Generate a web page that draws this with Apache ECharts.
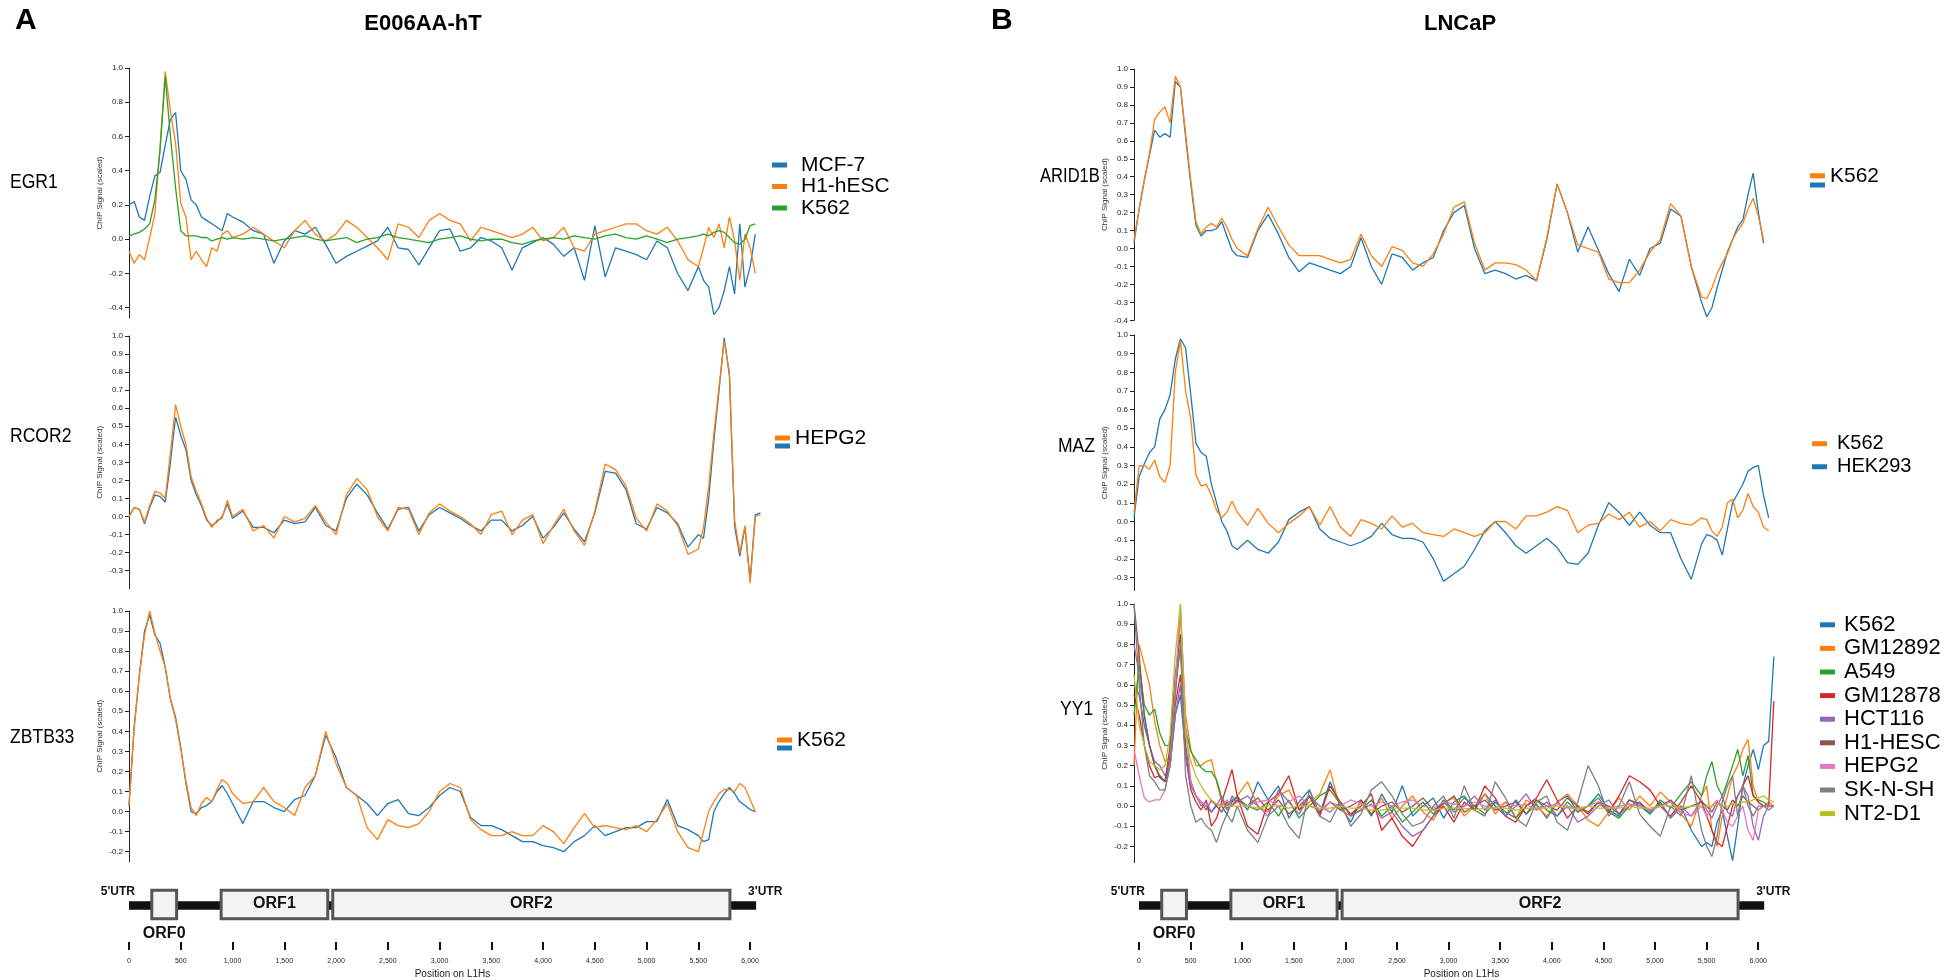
<!DOCTYPE html>
<html><head><meta charset="utf-8">
<script src="https://cdn.jsdelivr.net/npm/echarts@6/dist/echarts.min.js"></script>
<style>html,body{margin:0;padding:0;background:#fff}#c{width:1952px;height:980px}</style>
</head><body><div id="c"></div>
<script>
// ---------- positions on L1Hs (bp) shared by every series ----------
const positions = [0,50,100,150,200,250,300,350,400,450,500,550,600,650,700,750,800,850,900,950,1000,
1100,1200,1300,1400,1500,1600,1700,1800,1900,2000,2100,2200,2300,2400,2500,2600,2700,2800,2900,3000,
3100,3200,3300,3400,3500,3600,3700,3800,3900,4000,4100,4200,4300,4400,4500,4600,4700,4800,4900,5000,
5100,5200,5300,5400,5500,5550,5600,5650,5700,5750,5800,5850,5900,5950,6000,6050,6100,6150,6200];

// ---------- tick labels ----------
const xTicks = [0,500,1000,1500,2000,2500,3000,3500,4000,4500,5000,5500,6000];
const yTicksEGR1 = [-0.4,-0.2,0,0.2,0.4,0.6,0.8,1.0];
const yTicksRCOR2 = [-0.3,-0.2,-0.1,0,0.1,0.2,0.3,0.4,0.5,0.6,0.7,0.8,0.9,1.0];
const yTicksZBTB33 = [-0.2,-0.1,0,0.1,0.2,0.3,0.4,0.5,0.6,0.7,0.8,0.9,1.0];
const yTicksARID1B = [-0.4,-0.3,-0.2,-0.1,0,0.1,0.2,0.3,0.4,0.5,0.6,0.7,0.8,0.9,1.0];
const yTicksMAZ = [-0.3,-0.2,-0.1,0,0.1,0.2,0.3,0.4,0.5,0.6,0.7,0.8,0.9,1.0];
const yTicksYY1 = [-0.2,-0.1,0,0.1,0.2,0.3,0.4,0.5,0.6,0.7,0.8,0.9,1.0];

// ---------- L1Hs gene map ----------
const orfNames = ['ORF0','ORF1','ORF2'];
const orfStart = [220, 890, 1968];
const orfEnd = [460, 1920, 5805];
const utrExtent = [0, 6058];

// ---------- E006AA-hT : EGR1 ----------
const egr1_MCF7 = [0.2,0.22,0.13,0.11,0.25,0.37,0.39,0.55,0.7,0.74,0.4,0.35,0.23,0.2,0.13,0.11,0.09,0.07,0.05,0.15,0.13,
0.10,0.05,0.03,-0.14,-0.01,0.05,0.03,0.07,-0.03,-0.14,-0.1,-0.07,-0.04,-0.01,0.07,-0.05,-0.06,-0.15,-0.05,0.05,0.06,-0.07,-0.05,0.01,-0.01,-0.05,-0.18,-0.05,-0.02,0.01,-0.03,-0.1,-0.05,-0.24,0.08,-0.22,-0.05,-0.07,-0.09,-0.12,-0.01,-0.05,-0.2,-0.3,-0.16,
-0.24,-0.28,-0.44,-0.4,-0.3,-0.16,-0.32,0.09,-0.28,-0.16,0.03];
const egr1_H1hESC = [-0.07,-0.14,-0.09,-0.12,0.01,0.15,0.54,0.98,0.75,0.56,0.21,0.13,-0.12,-0.07,-0.12,-0.16,-0.05,-0.07,0.03,0.05,0.01,
0.03,0.07,0.03,-0.01,-0.05,0.05,0.11,0.03,-0.01,0.03,0.11,0.07,0.01,-0.05,-0.12,0.09,0.07,0.01,0.11,0.15,0.11,0.09,-0.01,0.07,0.05,0.03,0.01,0.03,0.07,-0.01,0.01,0.07,-0.05,-0.07,0.03,0.05,0.07,0.09,0.09,0.05,0.03,0.07,-0.01,-0.12,-0.16,
-0.05,0.07,0.01,0.09,-0.05,0.13,-0.01,-0.24,0.03,-0.05,-0.2];
const egr1_K562 = [0.02,0.03,0.04,0.06,0.09,0.23,0.52,0.95,0.6,0.3,0.05,0.02,0.02,0.02,0.01,0.01,-0.01,0.0,0.01,0.0,0.01,
0.0,0.01,0.0,-0.01,0.0,0.01,0.02,0.0,-0.01,0.0,0.01,-0.02,0.0,0.01,0.03,0.01,0.0,-0.01,-0.02,0.0,0.01,0.02,0.0,-0.01,0.0,0.0,-0.02,-0.03,-0.01,0.0,0.01,0.0,0.02,0.01,0.0,0.02,0.03,0.01,0.0,0.02,0.0,-0.02,0.0,0.01,0.02,
0.03,0.02,0.04,0.05,0.04,0.01,-0.02,-0.03,0.0,0.08,0.09];

// ---------- E006AA-hT : RCOR2 ----------
const rcor2_HEPG2_a = [0.0,0.05,0.04,-0.03,0.06,0.14,0.13,0.1,0.35,0.62,0.5,0.4,0.22,0.14,0.07,-0.01,-0.06,-0.02,-0.01,0.09,0.0,
0.04,-0.08,-0.05,-0.12,0.0,-0.03,-0.01,0.06,-0.03,-0.1,0.12,0.21,0.15,0.0,-0.08,0.05,0.04,-0.1,0.02,0.07,0.03,0.0,-0.04,-0.1,0.01,0.03,-0.1,-0.02,0.01,-0.15,-0.05,0.04,-0.08,-0.16,0.03,0.29,0.26,0.17,-0.01,-0.08,0.07,0.03,-0.05,-0.21,-0.18,
-0.06,0.17,0.46,0.72,0.97,0.8,-0.02,-0.2,-0.05,-0.37,0.0,0.01];
const rcor2_HEPG2_b = [0.0,0.05,0.04,-0.04,0.05,0.12,0.11,0.08,0.3,0.55,0.45,0.37,0.2,0.12,0.06,-0.02,-0.05,-0.03,0.0,0.07,-0.01,
0.03,-0.06,-0.06,-0.09,-0.02,-0.04,-0.03,0.05,-0.05,-0.08,0.1,0.18,0.12,0.02,-0.07,0.04,0.05,-0.08,0.01,0.05,0.02,-0.01,-0.05,-0.08,-0.02,-0.02,-0.08,-0.05,0.0,-0.12,-0.06,0.02,-0.07,-0.14,0.02,0.25,0.24,0.15,-0.04,-0.07,0.05,0.02,-0.04,-0.17,-0.1,
-0.12,0.1,0.42,0.7,0.99,0.78,-0.05,-0.22,-0.06,-0.35,0.01,0.02];

// ---------- E006AA-hT : ZBTB33 ----------
const zbtb33_K562_a = [0.03,0.42,0.68,0.88,1.0,0.89,0.8,0.72,0.56,0.46,0.31,0.15,0.02,-0.02,0.04,0.07,0.05,0.11,0.16,0.14,0.09,
0.04,0.05,0.12,0.05,0.02,-0.02,0.12,0.18,0.4,0.24,0.12,0.08,-0.08,-0.14,-0.04,-0.07,-0.08,-0.06,0.0,0.1,0.14,0.12,-0.04,-0.09,-0.12,-0.12,-0.1,-0.12,-0.12,-0.07,-0.1,-0.16,-0.08,-0.01,-0.08,-0.07,-0.08,-0.09,-0.07,-0.1,-0.04,0.04,-0.1,-0.18,-0.2,
-0.1,0.0,0.05,0.09,0.11,0.11,0.1,0.14,0.12,0.06,0.0];
const zbtb33_K562_b = [0.03,0.42,0.68,0.9,0.98,0.88,0.84,0.72,0.56,0.47,0.32,0.14,0.0,-0.01,0.02,0.03,0.05,0.1,0.13,0.09,0.04,
-0.06,0.05,0.05,0.02,0.0,0.06,0.08,0.18,0.38,0.27,0.12,0.08,0.04,-0.02,0.04,0.06,-0.01,-0.02,0.02,0.08,0.12,0.1,-0.03,-0.07,-0.07,-0.09,-0.12,-0.15,-0.15,-0.17,-0.18,-0.2,-0.15,-0.12,-0.07,-0.12,-0.1,-0.08,-0.08,-0.05,-0.05,0.06,-0.07,-0.09,-0.12,
-0.15,-0.14,0.0,0.05,0.09,0.12,0.09,0.05,0.03,0.01,0.0];

// ---------- LNCaP : ARID1B ----------
const arid1b_K562_a = [0.05,0.22,0.38,0.53,0.72,0.76,0.79,0.7,0.96,0.9,0.64,0.38,0.15,0.08,0.12,0.14,0.12,0.17,0.12,0.05,0.0,
-0.04,0.11,0.23,0.12,0.02,-0.04,-0.04,-0.04,-0.06,-0.08,-0.06,0.08,-0.04,-0.1,0.01,-0.01,-0.08,-0.1,-0.03,0.08,0.23,0.26,0.03,-0.12,-0.08,-0.08,-0.09,-0.12,-0.18,0.06,0.36,0.2,0.02,0.0,-0.02,-0.17,-0.19,-0.19,-0.12,-0.02,0.05,0.25,0.18,-0.1,-0.27,
-0.28,-0.22,-0.14,-0.08,-0.03,0.05,0.1,0.14,0.22,0.28,0.18,0.05];
const arid1b_K562_b = [0.03,0.22,0.38,0.52,0.66,0.62,0.64,0.62,0.93,0.9,0.62,0.36,0.13,0.07,0.1,0.1,0.11,0.15,0.07,-0.01,-0.04,
-0.05,0.1,0.19,0.08,-0.05,-0.13,-0.08,-0.1,-0.12,-0.14,-0.1,0.06,-0.1,-0.2,-0.03,-0.05,-0.12,-0.08,-0.05,0.1,0.2,0.24,0.0,-0.14,-0.12,-0.14,-0.17,-0.15,-0.18,0.05,0.36,0.2,-0.02,0.12,-0.01,-0.14,-0.24,-0.06,-0.15,0.0,0.03,0.22,0.18,-0.1,-0.3,
-0.38,-0.33,-0.22,-0.12,-0.02,0.05,0.12,0.16,0.3,0.42,0.2,0.03];

// ---------- LNCaP : MAZ ----------
const maz_K562 = [0.05,0.3,0.3,0.28,0.33,0.24,0.21,0.3,0.8,0.97,0.7,0.55,0.25,0.19,0.2,0.14,0.06,0.02,0.05,0.11,0.05,
-0.02,0.07,-0.01,-0.06,-0.01,0.03,0.08,-0.02,0.08,-0.03,-0.08,0.01,-0.01,-0.04,0.03,-0.03,-0.01,-0.06,-0.07,-0.08,-0.04,-0.06,-0.08,-0.06,0.0,0.0,-0.04,0.03,0.03,0.05,0.08,0.06,-0.06,-0.02,-0.01,0.04,0.01,0.05,-0.03,0.0,-0.05,0.01,-0.01,-0.02,0.02,
0.01,-0.05,-0.08,-0.03,0.1,0.12,0.02,0.06,0.15,0.08,0.05,-0.03,-0.05];
const maz_HEK293 = [0.02,0.24,0.31,0.37,0.4,0.55,0.6,0.68,0.87,0.98,0.93,0.68,0.42,0.37,0.35,0.2,0.1,0.0,-0.05,-0.13,-0.15,
-0.1,-0.15,-0.17,-0.11,0.01,0.05,0.08,-0.04,-0.09,-0.11,-0.13,-0.11,-0.08,-0.01,-0.07,-0.09,-0.09,-0.11,-0.2,-0.32,-0.28,-0.24,-0.15,-0.05,0.0,-0.06,-0.13,-0.17,-0.13,-0.09,-0.14,-0.22,-0.23,-0.17,-0.02,0.1,0.05,-0.02,0.05,-0.02,-0.06,-0.06,-0.2,-0.31,-0.12,
-0.07,-0.08,-0.1,-0.18,-0.04,0.1,0.15,0.2,0.27,0.29,0.3,0.14,0.02];

// ---------- LNCaP : YY1 ----------
const yy1_K562 = [0.6,0.55,0.4,0.3,0.2,0.14,0.12,0.2,0.45,0.55,0.25,0.12,0.05,0.02,0.0,-0.03,0.01,0.0,-0.04,0.02,0.05,
-0.02,0.12,0.03,0.1,-0.06,0.02,0.08,-0.04,0.12,0.0,-0.08,0.03,-0.05,0.06,-0.03,0.1,-0.05,0.0,0.04,-0.06,0.02,0.05,-0.02,0.06,0.0,-0.05,0.03,-0.04,0.01,-0.06,0.02,0.05,-0.03,0.0,0.06,-0.02,-0.05,0.03,0.0,-0.04,0.02,-0.06,0.0,-0.12,-0.2,
-0.18,-0.2,-0.08,-0.02,-0.15,-0.27,-0.1,0.1,0.2,0.28,0.18,0.3,0.32,0.74];
const yy1_GM12892 = [0.2,0.8,0.7,0.6,0.42,0.3,0.22,0.24,0.55,0.95,0.45,0.28,0.2,0.2,0.22,0.23,0.12,0.02,-0.01,0.0,0.05,
0.12,0.0,-0.03,0.05,0.08,-0.02,0.02,0.06,0.18,-0.02,-0.05,0.02,-0.04,0.04,-0.06,0.0,0.05,-0.03,-0.07,0.02,0.04,-0.05,0.0,0.06,-0.04,0.02,-0.06,0.03,0.0,-0.05,0.02,0.06,0.0,-0.07,-0.1,-0.03,0.04,-0.02,0.05,0.0,0.07,0.02,-0.04,-0.1,0.05,
0.1,-0.12,-0.2,-0.05,0.05,0.15,0.2,0.28,0.33,0.1,0.02,0.0,0.02,0.0];
const yy1_A549 = [0.45,0.7,0.5,0.45,0.48,0.36,0.3,0.3,0.62,0.78,0.38,0.27,0.23,0.19,0.17,0.17,0.13,0.04,0.0,0.03,0.04,
0.0,-0.02,0.02,-0.05,0.03,-0.06,0.0,0.05,0.08,0.01,-0.04,-0.02,0.03,-0.05,0.0,-0.08,-0.03,0.02,-0.04,0.03,-0.02,0.04,0.0,-0.04,0.02,-0.03,-0.06,0.0,0.03,-0.02,-0.05,0.02,-0.03,0.0,0.04,-0.03,-0.06,0.0,0.02,-0.04,0.03,-0.01,0.06,0.12,0.05,
0.15,0.22,0.1,0.05,0.12,0.2,0.28,0.15,0.25,0.05,0.03,0.02,0.0,0.0];
const yy1_GM12878 = [0.55,0.45,0.3,0.2,0.14,0.15,0.12,0.25,0.5,0.65,0.25,0.08,0.02,-0.02,0.03,-0.1,-0.06,0.02,0.1,0.18,0.05,
-0.1,-0.14,0.02,0.06,0.15,-0.02,0.05,-0.05,0.1,0.02,-0.04,0.0,0.06,-0.12,-0.06,-0.15,-0.2,-0.12,-0.05,0.0,-0.08,0.02,-0.02,0.1,0.04,-0.05,-0.08,0.0,0.04,0.13,0.03,-0.06,0.0,-0.04,0.02,-0.03,0.05,0.15,0.12,0.08,0.0,-0.05,0.02,0.1,0.02,
-0.05,-0.12,-0.18,-0.2,-0.1,0.0,0.05,0.1,0.15,0.05,0.02,0.0,0.0,0.52];
const yy1_HCT116 = [0.8,0.65,0.45,0.3,0.22,0.2,0.15,0.2,0.45,0.6,0.25,0.1,0.05,0.0,0.02,-0.03,0.0,0.05,-0.02,0.05,0.02,
0.05,0.0,-0.05,0.08,0.02,-0.04,0.05,0.0,-0.03,0.02,-0.05,-0.02,0.01,-0.06,-0.03,-0.1,-0.15,-0.12,-0.05,0.02,-0.03,0.0,0.05,-0.02,0.03,-0.05,0.0,0.06,-0.02,0.02,-0.05,0.0,-0.08,-0.05,0.0,0.03,-0.04,0.0,0.02,-0.03,0.01,-0.06,0.0,-0.05,0.03,
-0.02,-0.06,0.0,0.05,-0.03,-0.05,0.05,0.1,0.05,-0.1,-0.17,-0.05,0.0,0.0];
const yy1_H1HESC = [1.0,0.75,0.45,0.3,0.2,0.15,0.12,0.3,0.65,0.85,0.3,0.12,0.05,0.02,-0.02,0.03,0.0,-0.03,0.02,0.0,0.03,
0.0,0.04,-0.02,0.03,-0.04,0.0,0.05,-0.03,0.02,-0.02,0.0,0.03,-0.04,0.0,0.02,-0.03,0.0,0.04,-0.02,0.01,0.05,-0.03,0.0,0.03,-0.02,0.0,0.02,-0.04,0.03,0.0,-0.02,0.04,0.0,-0.03,0.02,0.0,-0.04,0.03,0.01,-0.02,0.0,0.03,-0.02,0.0,0.02,
0.0,-0.03,0.02,0.0,-0.02,0.03,0.0,0.05,0.02,0.0,-0.02,0.0,0.0,0.0];
const yy1_HEPG2 = [0.28,0.15,0.04,0.02,0.03,0.03,0.08,0.2,0.6,1.0,0.4,0.12,0.05,0.02,0.0,0.02,0.01,0.0,0.03,0.0,0.02,
0.0,0.02,0.03,0.0,0.02,0.05,0.0,-0.02,0.02,0.0,0.03,0.01,0.0,0.02,0.0,0.02,0.03,0.0,-0.01,0.02,0.01,0.0,0.02,0.0,-0.01,0.02,0.0,0.01,-0.02,0.0,0.01,0.0,-0.02,0.0,0.02,-0.01,0.0,0.01,0.0,-0.02,0.0,0.02,-0.03,-0.05,0.0,
-0.05,0.0,0.03,-0.02,-0.08,-0.1,-0.05,0.0,-0.12,-0.17,-0.02,0.0,0.0,0.0];
const yy1_SKNSH = [1.0,0.6,0.3,0.15,0.12,0.08,0.08,0.2,0.55,0.8,0.15,0.0,-0.08,-0.06,-0.1,-0.12,-0.18,-0.1,-0.04,-0.08,0.0,
-0.12,-0.18,-0.05,0.0,-0.1,-0.16,0.08,-0.05,-0.08,0.02,-0.1,-0.04,0.08,0.12,0.05,-0.04,-0.1,-0.08,0.0,0.05,-0.06,0.1,-0.02,-0.05,0.12,0.04,-0.06,-0.1,0.02,0.05,-0.08,-0.12,0.02,0.2,0.1,-0.05,0.0,0.12,-0.04,-0.1,-0.15,0.0,-0.05,0.15,-0.12,
-0.2,-0.25,-0.15,0.02,0.1,0.15,-0.05,0.1,0.0,-0.05,0.0,0.0,-0.02,0.0];
const yy1_NT2D1 = [0.65,0.4,0.3,0.22,0.2,0.18,0.2,0.35,0.75,1.0,0.35,0.22,0.15,0.1,0.06,0.03,0.01,0.0,0.0,0.0,0.0,
0.0,-0.01,0.0,0.0,-0.01,0.0,0.0,-0.01,-0.01,0.0,-0.01,-0.01,-0.02,-0.02,-0.01,-0.01,-0.01,-0.02,-0.02,-0.01,-0.01,-0.01,-0.02,-0.01,-0.01,-0.01,-0.02,-0.01,-0.01,-0.01,0.0,-0.01,-0.01,0.0,-0.01,-0.01,-0.01,0.0,-0.01,-0.01,0.0,0.0,-0.01,0.0,0.0,
0.0,0.0,0.01,0.0,0.0,0.01,0.01,0.02,0.02,0.03,0.04,0.05,0.03,0.02];

// ---------- build chart ----------
const FONT = '"Liberation Sans", Arial, Helvetica, sans-serif';
const COL = {blue:'#1f77b4', orange:'#ff7f0e', green:'#2ca02c', red:'#d62728', purple:'#9467bd',
  brown:'#8c564b', pink:'#e377c2', gray:'#7f7f7f', olive:'#bcbd22'};
function pairs(vals){ return vals.map((v,i)=>[positions[i], v]); }

const panels = [
  {key:'EGR1', grid:{left:129, top:68, width:647, height:250}, min:-0.46, ticks:yTicksEGR1, label:[10,183], sx:0.9,
   lines:[['MCF-7',egr1_MCF7,COL.blue],['H1-hESC',egr1_H1hESC,COL.orange],['K562',egr1_K562,COL.green]]},
  {key:'RCOR2', grid:{left:129, top:336, width:647, height:252.7}, min:-0.4, ticks:yTicksRCOR2, label:[10,437], sx:0.9,
   lines:[['HEPG2#2',rcor2_HEPG2_b,COL.blue],['HEPG2',rcor2_HEPG2_a,COL.orange]]},
  {key:'ZBTB33', grid:{left:129, top:611, width:647, height:250.7}, min:-0.25, ticks:yTicksZBTB33, label:[10,738], sx:0.9,
   lines:[['K562#2',zbtb33_K562_b,COL.blue],['K562',zbtb33_K562_a,COL.orange]]},
  {key:'ARID1B', grid:{left:1134, top:69, width:645, height:251.3}, min:-0.4, ticks:yTicksARID1B, label:[1040,177], sx:0.85,
   lines:[['K562#2',arid1b_K562_b,COL.blue],['K562',arid1b_K562_a,COL.orange]]},
  {key:'MAZ', grid:{left:1134, top:335, width:645, height:255.5}, min:-0.37, ticks:yTicksMAZ, label:[1058,447], sx:0.9,
   lines:[['HEK293',maz_HEK293,COL.blue],['K562',maz_K562,COL.orange]]},
  {key:'YY1', grid:{left:1134, top:604, width:645, height:258.6}, min:-0.28, ticks:yTicksYY1, label:[1060,710], sx:0.9,
   lines:[['K562',yy1_K562,COL.blue],['GM12892',yy1_GM12892,COL.orange],['A549',yy1_A549,COL.green],
          ['GM12878',yy1_GM12878,COL.red],['HCT116',yy1_HCT116,COL.purple],['H1-HESC',yy1_H1HESC,COL.brown],
          ['HEPG2',yy1_HEPG2,COL.pink],['SK-N-SH',yy1_SKNSH,COL.gray],['NT2-D1',yy1_NT2D1,COL.olive]]}
];

const grid = [], xAxis = [], yAxis = [], series = [], graphicEls = [];
panels.forEach((p, gi) => {
  grid.push(Object.assign({containLabel:false}, p.grid));
  xAxis.push({type:'value', gridIndex:gi, min:0, max:6250, show:false});
  yAxis.push({type:'value', gridIndex:gi, min:p.min, max:1.0,
    name:'ChIP Signal (scaled)', nameLocation:'middle', nameGap:25,
    nameTextStyle:{fontSize:8, color:'#333', fontFamily:FONT},
    axisLine:{show:true, onZero:false, lineStyle:{color:'#222', width:1}},
    axisTick:{show:true, length:4, customValues:p.ticks, lineStyle:{color:'#222'}},
    axisLabel:{show:true, customValues:p.ticks, fontSize:8, margin:6, color:'#222', fontFamily:FONT,
      formatter:(v)=>Number(v).toFixed(1)},
    splitLine:{show:false}});
  p.lines.forEach(([nm, vals, col]) => {
    series.push({type:'line', name:p.key+'|'+nm, xAxisIndex:gi, yAxisIndex:gi, data:pairs(vals),
      showSymbol:false, symbol:'none', color:col, lineStyle:{width:1.3, color:col}, animation:false, silent:true});
  });
  graphicEls.push({type:'text', x:p.label[0], y:p.label[1], scaleX:p.sx,
    style:{text:p.key, font:'19.5px '+FONT, fill:'#000', align:'left', verticalAlign:'middle'}});
});

// gene map grids
const geneGrids = [{left:129, width:647}, {left:1139, width:645}];
geneGrids.forEach((g, k) => {
  const gi = grid.length;
  grid.push({left:g.left, width:g.width, top:885, height:60});
  xAxis.push({type:'value', gridIndex:gi, min:0, max:6250, position:'bottom',
    name:'Position on L1Hs', nameLocation:'middle', nameGap:27,
    nameTextStyle:{fontSize:10, color:'#222', fontFamily:FONT},
    axisLine:{show:false, onZero:false},
    axisTick:{show:true, length:8, customValues:xTicks, lineStyle:{color:'#111', width:2}},
    axisLabel:{show:true, customValues:xTicks, fontSize:7, margin:16, color:'#222', fontFamily:FONT,
      formatter:(v)=>Number(v).toLocaleString('en-US')},
    splitLine:{show:false}});
  yAxis.push({type:'value', gridIndex:gi, min:0, max:60, inverse:true, show:false});
  series.push({type:'custom', xAxisIndex:gi, yAxisIndex:gi, data:[[0,0]], silent:true, animation:false,
    renderItem:(params, api) => {
      const X = (bp) => api.coord([bp, 0])[0];
      const Y = (v) => api.coord([0, v])[1];
      const kids = [];
      kids.push({type:'rect', shape:{x:X(utrExtent[0]), y:Y(17), width:X(utrExtent[1])-X(utrExtent[0]), height:Y(26)-Y(17)},
        style:{fill:'#111'}});
      orfNames.forEach((nm, i) => {
        kids.push({type:'rect', shape:{x:X(orfStart[i]), y:Y(5.5), width:X(orfEnd[i])-X(orfStart[i]), height:Y(35.5)-Y(5.5)},
          style:{fill:'#f3f3f3', stroke:'#555', lineWidth:3}});
        const cx = (X(orfStart[i]) + X(orfEnd[i])) / 2;
        kids.push({type:'text', x:cx, y:i===0 ? Y(51) : Y(20),
          style:{text:nm, font:'bold 16px '+FONT, fill:'#111', align:'center', verticalAlign:'middle'}});
      });
      kids.push({type:'text', x:X(utrExtent[0])+6, y:Y(7.5),
        style:{text:"5'UTR", font:'bold 12px '+FONT, fill:'#111', align:'right', verticalAlign:'middle'}});
      kids.push({type:'text', x:X(utrExtent[1])-8, y:Y(7.5),
        style:{text:"3'UTR", font:'bold 12px '+FONT, fill:'#111', align:'left', verticalAlign:'middle'}});
      return {type:'group', children:kids};
    }});
});

// headings
graphicEls.push({type:'text', x:15, y:21, style:{text:'A', font:'bold 30px '+FONT, fill:'#000', align:'left', verticalAlign:'middle'}});
graphicEls.push({type:'text', x:991, y:21, style:{text:'B', font:'bold 30px '+FONT, fill:'#000', align:'left', verticalAlign:'middle'}});
graphicEls.push({type:'text', x:423, y:24, style:{text:'E006AA-hT', font:'bold 22px '+FONT, fill:'#000', align:'center', verticalAlign:'middle'}});
graphicEls.push({type:'text', x:1460, y:24, style:{text:'LNCaP', font:'bold 22px '+FONT, fill:'#000', align:'center', verticalAlign:'middle'}});

// legends
function lg(names, left, top, opt) {
  opt = opt || {};
  const fs = opt.fs || 21, lh = opt.lh || 21.5;
  return {show:true, orient:'vertical', left:left, top:top, data:names, icon:'rect',
    itemWidth:15, itemHeight:5, itemGap:opt.gap || 0, selectedMode:false,
    formatter: opt.blank ? (() => ' ') : ((n) => n.split('|')[1]),
    textStyle:{fontSize:fs, lineHeight:lh, color:'#000', fontFamily:FONT, padding:opt.pad || 0}};
}
const legend = [
  lg(['EGR1|MCF-7','EGR1|H1-hESC','EGR1|K562'], 767, 149.25, {pad:[0,0,0,9]}),
  lg(['RCOR2|HEPG2'], 770, 418.25, {pad:[8,0,0,0]}),
  lg(['RCOR2|HEPG2#2'], 770, 430.25, {blank:true}),
  lg(['ZBTB33|K562'], 772, 720.25, {pad:[8,0,0,0]}),
  lg(['ZBTB33|K562#2'], 772, 732.25, {blank:true}),
  lg(['ARID1B|K562'], 1805, 156, {pad:[8,0,0,0]}),
  lg(['ARID1B|K562#2'], 1805, 169.25, {blank:true}),
  lg(['MAZ|K562','MAZ|HEK293'], 1807, 427.25, {pad:[0,0,0,5], lh:23, fs:20}),
  lg(['YY1|K562','YY1|GM12892','YY1|A549','YY1|GM12878','YY1|HCT116','YY1|H1-HESC','YY1|HEPG2','YY1|SK-N-SH','YY1|NT2-D1'],
     1815, 608, {fs:22, lh:23.6, pad:[0,0,0,4]})
];

const chart = echarts.init(document.getElementById('c'), null, {renderer:'canvas', width:1952, height:980});
chart.setOption({
  backgroundColor:'#ffffff', animation:false, textStyle:{fontFamily:FONT},
  grid, xAxis, yAxis, series, legend, graphic:{elements:graphicEls}
});
</script></body></html>
